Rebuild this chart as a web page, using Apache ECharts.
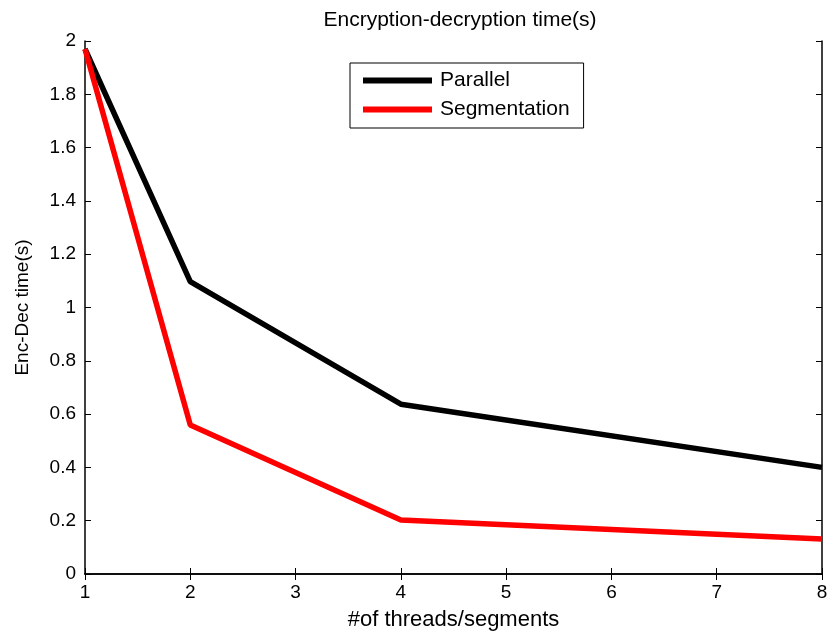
<!DOCTYPE html>
<html>
<head>
<meta charset="utf-8">
<script src="https://cdn.jsdelivr.net/npm/echarts@6/dist/echarts.min.js"></script>
<style>
html, body { margin: 0; padding: 0; background: #fff; }
#main { width: 830px; height: 633px; }
</style>
</head>
<body>
<div id="main"></div>
<script>
// 数据
var threads = [1, 2, 4, 8]
var parallelVals = [1.97, 1.097, 0.637, 0.400]
var segmentVals = [1.97, 0.559, 0.203, 0.131]
var seriesNames = ['Parallel', 'Segmentation']

function pairs(xs, ys) {
    return xs.map(function (x, i) { return [x, ys[i]] })
}

var myChart = echarts.init(document.getElementById('main'))
var ff = 'Liberation Sans, Arial, sans-serif'
var tickFont = { fontFamily: ff, fontSize: 19, color: '#000' }
var line = { show: true, lineStyle: { color: '#000', width: 1.5 } }
var tick = { show: true, inside: true, length: 6, lineStyle: { color: '#000' } }
var option = {
    animation: false,
    backgroundColor: '#fff',
    title: {
        text: 'Encryption-decryption time(s)',
        left: 455, top: 5, textAlign: 'center',
        textStyle: { fontFamily: ff, fontSize: 21, fontWeight: 'normal', color: '#000' }
    },
    legend: {
        orient: 'vertical',
        left: 350, top: 63,
        padding: [7, 14, 8, 13],
        itemGap: 8,
        itemWidth: 69, itemHeight: 6,
        icon: 'rect',
        borderColor: '#000', borderWidth: 1,
        backgroundColor: '#fff',
        data: seriesNames,
        textStyle: { fontFamily: ff, fontSize: 21, color: '#000', padding: [0, 0, 0, 3] }
    },
    // outerBoundsMode none: 不让v6自动缩小绘图区
    grid: { left: 85, right: 8, top: 41, bottom: 59, containLabel: false, outerBoundsMode: 'none' },
    xAxis: [{
        type: 'value', min: 1, max: 8, interval: 1,
        name: '#of threads/segments', nameLocation: 'middle', nameGap: 35,
        nameTextStyle: { fontFamily: ff, fontSize: 22, color: '#000' },
        axisLine: line,
        axisTick: tick,
        axisLabel: Object.assign({ margin: 9 }, tickFont),
        splitLine: { show: false }
    }, {
        type: 'value', min: 1, max: 8, interval: 1, position: 'top',
        axisLine: line,
        axisTick: tick,
        axisLabel: { show: false },
        splitLine: { show: false }
    }],
    yAxis: [{
        type: 'value', min: 0, max: 2, interval: 0.2,
        name: 'Enc-Dec time(s)', nameLocation: 'middle', nameGap: 53,
        nameTextStyle: { fontFamily: ff, fontSize: 19, color: '#000' },
        axisLine: line,
        axisTick: tick,
        axisLabel: Object.assign({ margin: 9, formatter: function (v) { return String(Math.round(v * 10) / 10) } }, tickFont),
        splitLine: { show: false }
    }, {
        type: 'value', min: 0, max: 2, interval: 0.2, position: 'right',
        axisLine: line,
        axisTick: tick,
        axisLabel: { show: false },
        splitLine: { show: false }
    }],
    series: [
        {
            name: seriesNames[0], type: 'line', data: pairs(threads, parallelVals),
            symbol: 'none', z: 3,
            lineStyle: { color: '#000', width: 5.5 }, itemStyle: { color: '#000' }
        },
        {
            name: seriesNames[1], type: 'line', data: pairs(threads, segmentVals),
            symbol: 'none', z: 4,
            lineStyle: { color: '#ff0000', width: 5.5 }, itemStyle: { color: '#ff0000' }
        }
    ]
}
myChart.setOption(option)
</script>
</body>
</html>
